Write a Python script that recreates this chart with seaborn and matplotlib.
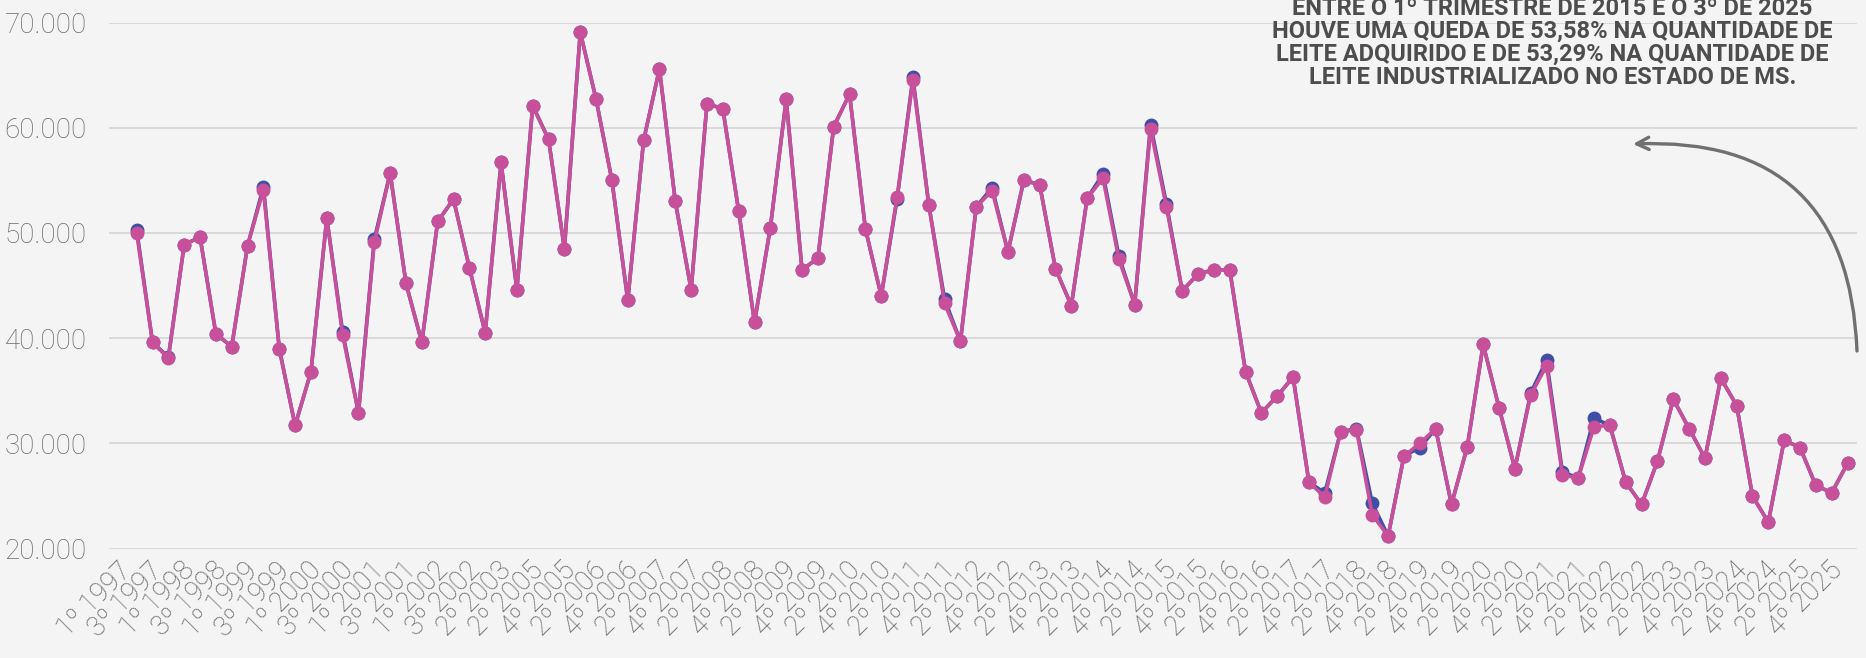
import matplotlib
matplotlib.use("Agg")
import matplotlib.pyplot as plt
import seaborn as sns
import pandas as pd
from matplotlib.ticker import FuncFormatter

sns.set_theme(style="white")
plt.rcParams["font.family"] = ["Roboto", "DejaVu Sans"]

# =========================
# DADOS (mil litros por trimestre)
# =========================
periodos = [
    "1º 1997", "2º 1997", "3º 1997", "4º 1997",
    "1º 1998", "2º 1998", "3º 1998", "4º 1998",
    "1º 1999", "2º 1999", "3º 1999", "4º 1999",
    "1º 2000", "2º 2000", "3º 2000", "4º 2000",
    "1º 2001", "2º 2001", "3º 2001", "4º 2001",
    "1º 2002", "2º 2002", "3º 2002", "4º 2002",
    "2º 2003",
    "1º 2005", "2º 2005", "3º 2005", "4º 2005",
    "1º 2006", "2º 2006", "3º 2006", "4º 2006",
    "1º 2007", "2º 2007", "3º 2007", "4º 2007",
    "1º 2008", "2º 2008", "3º 2008", "4º 2008",
    "1º 2009", "2º 2009", "3º 2009", "4º 2009",
    "1º 2010", "2º 2010", "3º 2010", "4º 2010",
    "1º 2011", "2º 2011", "3º 2011", "4º 2011",
    "1º 2012", "2º 2012", "3º 2012", "4º 2012",
    "1º 2013", "2º 2013", "3º 2013", "4º 2013",
    "1º 2014", "2º 2014", "3º 2014", "4º 2014",
    "1º 2015", "2º 2015", "3º 2015", "4º 2015",
    "1º 2016", "2º 2016", "3º 2016", "4º 2016",
    "1º 2017", "2º 2017", "3º 2017", "4º 2017",
    "1º 2018", "2º 2018", "3º 2018", "4º 2018",
    "1º 2019", "2º 2019", "3º 2019", "4º 2019",
    "1º 2020", "2º 2020", "3º 2020", "4º 2020",
    "1º 2021", "2º 2021", "3º 2021", "4º 2021",
    "1º 2022", "2º 2022", "3º 2022", "4º 2022",
    "1º 2023", "2º 2023", "3º 2023", "4º 2023",
    "1º 2024", "2º 2024", "3º 2024", "4º 2024",
    "1º 2025", "2º 2025", "3º 2025", "4º 2025",
]

leite_adquirido = [
    50.3, 39.6, 38.2, 48.9, 49.6, 40.4, 39.2, 48.8, 54.4, 39.0,
    31.7, 36.8, 51.4, 40.6, 32.9, 49.4, 55.7, 45.2, 39.6, 51.1,
    53.2, 46.7, 40.5, 56.7, 44.6, 62.1, 58.9, 48.5, 69.1, 62.7,
    55.0, 43.6, 58.8, 65.6, 53.0, 44.6, 62.3, 61.8, 52.1, 41.5,
    50.5, 62.7, 46.5, 47.6, 60.1, 63.2, 50.4, 44.0, 53.2, 64.8,
    52.7, 43.7, 39.7, 52.5, 54.3, 48.2, 55.0, 54.6, 46.6, 43.1,
    53.3, 55.6, 47.8, 43.2, 60.3, 52.8, 44.5, 46.1, 46.5, 46.5,
    36.8, 32.9, 34.5, 36.3, 26.3, 25.3, 31.1, 31.4, 24.3, 21.2,
    28.8, 29.6, 31.4, 24.2, 29.7, 39.4, 33.4, 27.6, 34.8, 37.9,
    27.3, 26.7, 32.4, 31.7, 26.3, 24.2, 28.3, 34.2, 31.4, 28.6,
    36.2, 33.6, 25.0, 22.5, 30.3, 29.6, 26.0, 25.3, 28.1,
]

leite_industrializado = [
    50.0, 39.6, 38.1, 48.9, 49.6, 40.4, 39.2, 48.8, 54.1, 39.0,
    31.7, 36.8, 51.4, 40.3, 32.9, 49.1, 55.7, 45.2, 39.6, 51.1,
    53.2, 46.7, 40.5, 56.7, 44.6, 62.1, 58.9, 48.5, 69.1, 62.7,
    55.0, 43.6, 58.8, 65.6, 53.0, 44.6, 62.3, 61.8, 52.1, 41.5,
    50.5, 62.7, 46.5, 47.6, 60.1, 63.2, 50.4, 44.0, 53.4, 64.5,
    52.7, 43.3, 39.7, 52.5, 54.0, 48.2, 55.0, 54.6, 46.6, 43.1,
    53.3, 55.2, 47.5, 43.2, 59.9, 52.5, 44.5, 46.1, 46.5, 46.5,
    36.8, 32.9, 34.5, 36.3, 26.3, 24.9, 31.1, 31.3, 23.2, 21.2,
    28.8, 30.0, 31.4, 24.2, 29.7, 39.4, 33.4, 27.6, 34.6, 37.4,
    27.0, 26.7, 31.6, 31.7, 26.3, 24.2, 28.3, 34.2, 31.4, 28.6,
    36.2, 33.6, 25.0, 22.5, 30.3, 29.6, 26.0, 25.3, 28.1,
]

texto_nota = ("ENTRE O 1º TRIMESTRE DE 2015 E O 3º DE 2025\n"
              "HOUVE UMA QUEDA DE 53,58% NA QUANTIDADE DE\n"
              "LEITE ADQUIRIDO E DE 53,29% NA QUANTIDADE DE\n"
              "LEITE INDUSTRIALIZADO NO ESTADO DE MS.")

cor_azul = "#3f4ea6"
cor_rosa = "#c8509b"
cor_texto = "#5e5e5e"

df = pd.DataFrame({
    "pos": range(len(periodos)),
    "periodo": periodos,
    "adquirido": leite_adquirido,
    "industrializado": leite_industrializado,
})

# =========================
# FIGURA
# =========================
fig = plt.figure(figsize=(18.66, 6.58), dpi=100, facecolor="#f4f4f4")
ax = fig.add_axes([0.0584, 0.1663, 0.9368, 0.7994])
ax.set_facecolor("none")

for col, cor in [("adquirido", cor_azul), ("industrializado", cor_rosa)]:
    sns.lineplot(
        data=df, x="pos", y=col, ax=ax,
        color=cor, linewidth=2.6,
        marker="o", markersize=10, markeredgewidth=0,
        markerfacecolor=cor, clip_on=False,
    )

ax.set_ylim(20, 70)
ax.set_yticks([20, 30, 40, 50, 60, 70])
ax.yaxis.set_major_formatter(
    FuncFormatter(lambda v, _: f"{v * 1000:,.0f}".replace(",", "."))
)
ax.set_xlim(-1.75, len(periodos) - 0.4)
ax.set_xticks(df["pos"][::2])
ax.set_xticklabels(df["periodo"][::2], rotation=45, ha="right",
                   rotation_mode="default")

ax.grid(axis="y", color="#d9d9d9", linewidth=1.4)
ax.set_axisbelow(True)
for s in ax.spines.values():
    s.set_visible(False)
ax.tick_params(axis="both", length=0)
ax.tick_params(axis="y", labelsize=20, labelcolor="#6a6a6a", pad=16)
ax.tick_params(axis="x", labelsize=19.5, labelcolor=cor_texto, pad=6)
for lbl in ax.get_yticklabels() + ax.get_xticklabels():
    lbl.set_fontweight("light")
ax.set_xlabel("")
ax.set_ylabel("")

# nota no canto superior direito
fig.text(0.832, 0.935, texto_nota, ha="center", va="center",
         fontsize=17, fontweight="bold", color="#4d4d4d", linespacing=1.0)

# seta curva
ax.annotate(
    "", xy=(1633 / 1866, 1 - 144 / 658), xycoords="figure fraction",
    xytext=(1857 / 1866, 1 - 351 / 658), textcoords="figure fraction",
    arrowprops=dict(arrowstyle="->", color="#707070", lw=2.4,
                    connectionstyle="arc3,rad=0.5",
                    shrinkA=0, shrinkB=0, mutation_scale=22),
    annotation_clip=False,
)

fig.savefig("out.png", dpi=100, facecolor=fig.get_facecolor())
